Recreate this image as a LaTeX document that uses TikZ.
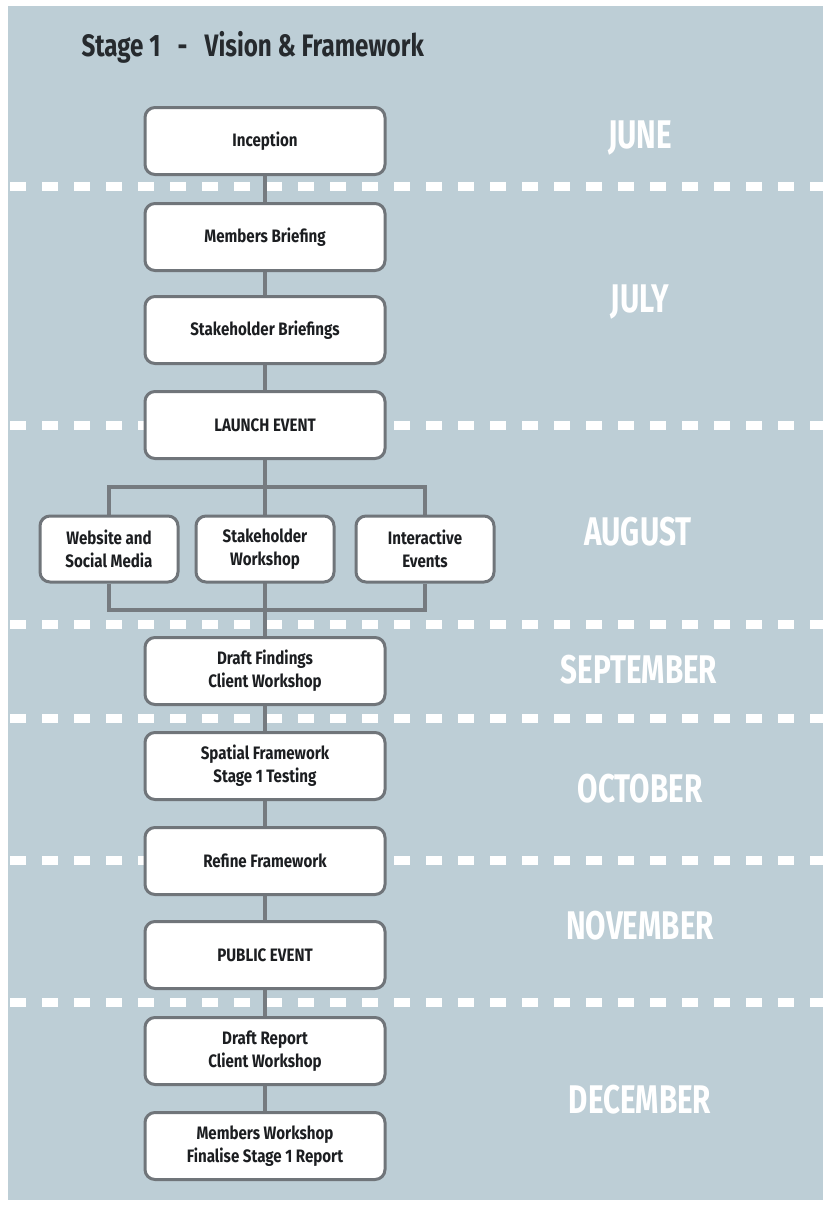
\documentclass[tikz,border=0pt]{standalone}
\usepackage{fontspec}
\setmainfont{Fira Sans}
\newfontfamily\boxfont{Fira Sans}[FakeStretch=0.84]
\newfontfamily\monthfont{Fira Sans}[FakeStretch=0.74]
\newfontfamily\titlefont{Fira Sans}[FakeStretch=0.78]
\usetikzlibrary{backgrounds}
\definecolor{panel}{RGB}{189,206,214}
\definecolor{boxline}{RGB}{112,117,122}
\definecolor{conn}{RGB}{118,123,128}
\definecolor{ink}{RGB}{28,30,33}
\definecolor{titleink}{RGB}{38,42,46}
\pgfdeclarelayer{back}
\pgfsetlayers{back,background,main}
\tikzset{
  stepbox/.style={draw=boxline, line width=3pt, fill=white, rounded corners=10pt,
    minimum width=240pt, minimum height=67pt, align=center, text=ink,
    font=\boxfont\bfseries\fontsize{18}{23}\selectfont, inner sep=0pt},
  subbox/.style={stepbox, minimum width=138pt, minimum height=66pt},
  month/.style={text=white, font=\monthfont\bfseries\fontsize{40}{40}\selectfont, anchor=center},
  sep/.style={draw=white, line width=9pt, dash pattern=on 16pt off 16pt},
  link/.style={draw=conn, line width=3.5pt},
}
\begin{document}
\begin{tikzpicture}[x=1pt,y=-1pt]
\useasboundingbox (0,0) rectangle (823,1205);
\begin{pgfonlayer}{back}
  \fill[white] (0,0) rectangle (823,1205);
  \fill[panel] (8,6) rectangle (823,1200);
  \foreach \yy in {186,425,624,718,860,1002}
    \draw[sep] (10,\yy) -- (823,\yy);
\end{pgfonlayer}

\node[anchor=west, text=titleink, font=\titlefont\bfseries\fontsize{31}{31}\selectfont] (title) at (78,47) {Stage 1\ \ \ -\ \ \ Vision \& Framework};

\node[stepbox] (inc) at (265,141) {Inception};
\node[stepbox] (mb) at (265,237) {Members Briefing};
\node[stepbox] (sb) at (265,330) {Stakeholder Briefings};
\node[stepbox] (launch) at (265,425) {LAUNCH EVENT};
\node[subbox] (web) at (109,549) {Website and\\Social Media};
\node[subbox] (sw) at (265,549) {Stakeholder\\Workshop};
\node[subbox] (inter) at (425,549) {Interactive\\Events};
\node[stepbox] (dff) at (265,671) {Draft Findings\\Client Workshop};
\node[stepbox] (sf) at (265,766) {Spatial Framework\\Stage 1 Testing};
\node[stepbox] (rf) at (265,861) {Refine Framework};
\node[stepbox] (pe) at (265,955) {PUBLIC EVENT};
\node[stepbox] (dr) at (265,1051) {Draft Report\\Client Workshop};
\node[stepbox] (mw) at (265,1146) {Members Workshop\\Finalise Stage 1 Report};

\coordinate (split) at (265,487);
\coordinate (merge) at (265,610);

\begin{pgfonlayer}{background}
  \draw[link] (inc) -- (mb);
  \draw[link] (mb) -- (sb);
  \draw[link] (sb) -- (launch);
  \draw[link] (launch) -- (dff);
  \draw[link] (web.north) |- (split) -| (inter.north);
  \draw[link] (web.south) |- (merge) -| (inter.south);
  \draw[link] (dff) -- (sf);
  \draw[link] (sf) -- (rf);
  \draw[link] (rf) -- (pe);
  \draw[link] (pe) -- (dr);
  \draw[link] (dr) -- (mw);
\end{pgfonlayer}

\node[month] (jun) at (640,138) {JUNE};
\node[month] (jul) at (640,302) {JULY};
\node[month] (aug) at (638,532) {AUGUST};
\node[month] (sep) at (639,670) {SEPTEMBER};
\node[month] (oct) at (640,789) {OCTOBER};
\node[month] (nov) at (640,926) {NOVEMBER};
\node[month] (dec) at (640,1100) {DECEMBER};
\end{tikzpicture}
\end{document}
